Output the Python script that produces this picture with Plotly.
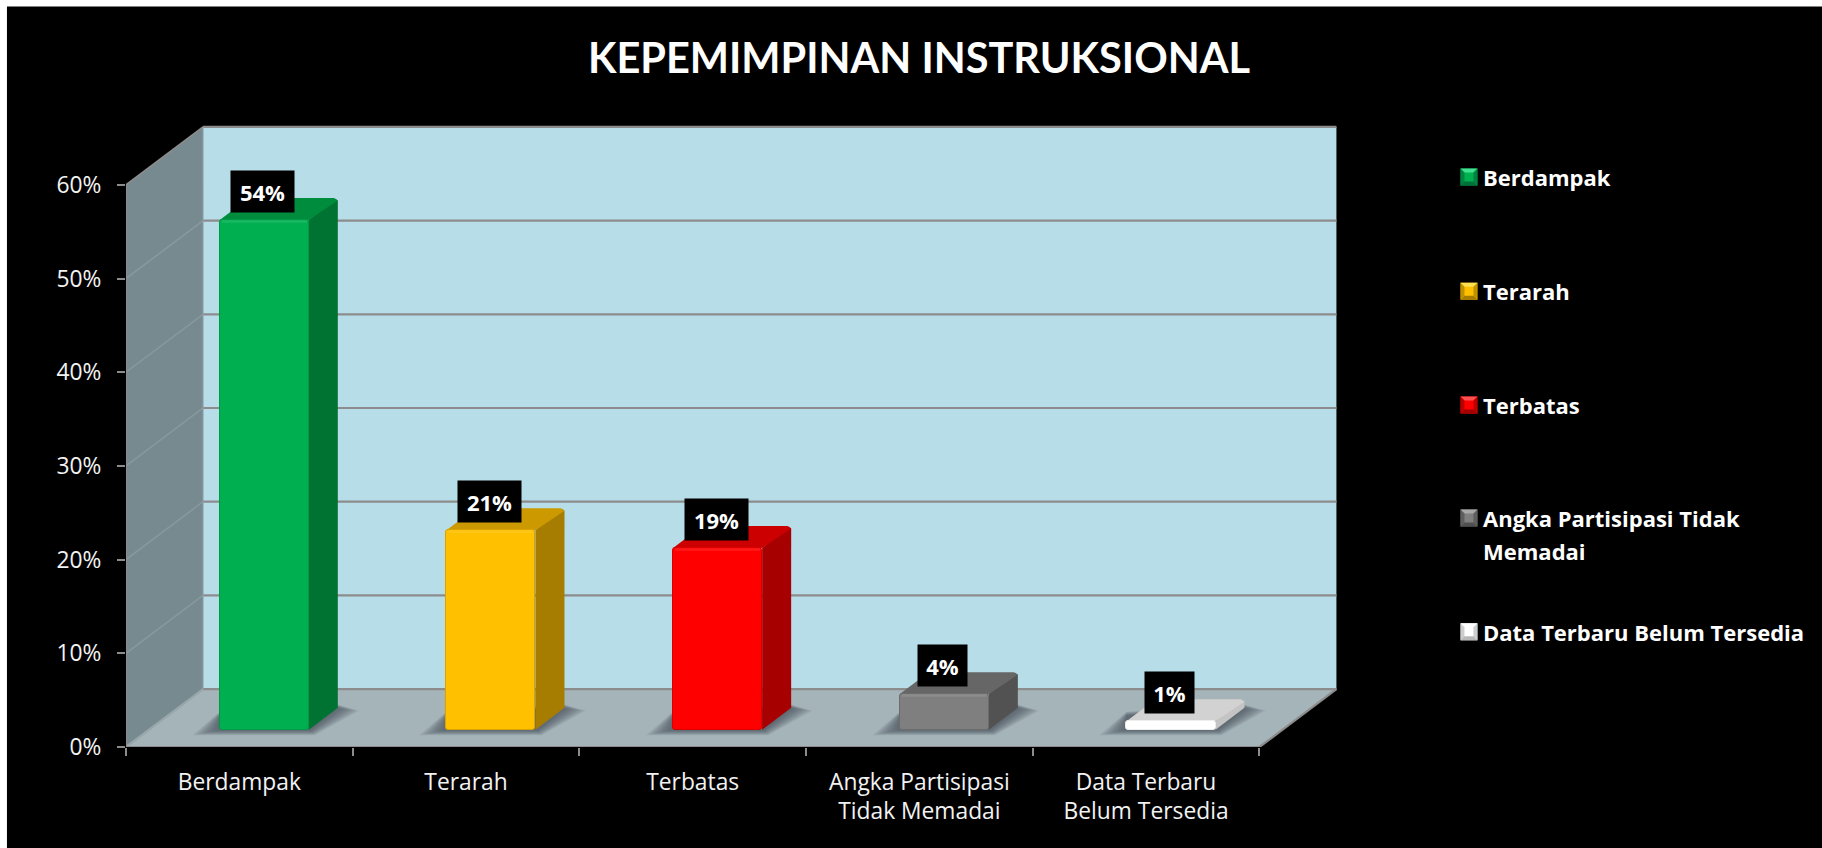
import plotly.graph_objects as go

# ---------- data ----------
categories = ["Berdampak", "Terarah", "Terbatas", "Angka Partisipasi<br>Tidak Memadai", "Data Terbaru<br>Belum Tersedia"]
legend_names = ["Berdampak", "Terarah", "Terbatas", "Angka Partisipasi Tidak<br>Memadai", "Data Terbaru Belum Tersedia"]
values = [54.4, 21.3, 19.4, 3.8, 0.9]
value_labels = ["54%", "21%", "19%", "4%", "1%"]
y_ticks = [0, 10, 20, 30, 40, 50, 60]
y_tick_labels = ["0%", "10%", "20%", "30%", "40%", "50%", "60%"]
title_text = "KEPEMIMPINAN INSTRUKSIONAL"

front_colors = ["#00B050", "#FFC000", "#FF0000", "#7F7F7F", "#FFFFFF"]
side_colors = ["#007231", "#A67D00", "#A60000", "#525252", "#C4C4C4"]
top_colors = ["#008C3D", "#CC9A00", "#CC0000", "#666666", "#D2D2D2"]
edge_colors = ["#009A46", "#D9A300", "#D90000", "#6C6C6C", "#EEEEEE"]
legend_light = ["#40E090", "#FFE050", "#FF5050", "#A8A8A8", "#FFFFFF"]
legend_dark = ["#00703A", "#A67D00", "#A00000", "#505050", "#B8B8B8"]

# ---------- geometry ----------
W_PX, H_PX = 1822, 848
X0_PX, Y0_PX = 126.0, 747.3          # pixel of x=0, y=0
PX_PER_X, PX_PER_Y = 226.6, 9.38     # pixels per category / per percent point
XMAX, YMAX = 5.36, 66.6
plot_w, plot_h = XMAX * PX_PER_X, YMAX * PX_PER_Y

ux = lambda p: p / PX_PER_X
uy = lambda p: p / PX_PER_Y
DX, DY = ux(77), uy(58)              # wall depth
BAR_W = ux(89)
BAR_DX, BAR_DY = ux(29), uy(22)      # bar depth
SHIFT_X, BASE_Y = 0.11, uy(17.3)     # bar offset on the floor

WALL = "#768A90"
BACK = "#B7DDE8"
FLOOR = "#A5B4B9"
GRID = "#8C8C8C"
AXIS = "#8C8C8C"
FONT = "Open Sans"
TITLE_FONT = "Lato"


def px_paper(x, y):
    return (x - X0_PX) / plot_w, (Y0_PX - y) / plot_h


def poly(points, fill, opacity=1.0, layer="below", ref="data"):
    if ref == "paper":
        points = [px_paper(*p) for p in points]
    path = "M " + " L ".join(f"{a:.5f},{b:.5f}" for a, b in points) + " Z"
    d = dict(type="path", path=path, fillcolor=fill, opacity=opacity, line=dict(width=0), layer=layer)
    d.update(xref="paper", yref="paper") if ref == "paper" else d.update(xref="x", yref="y")
    return d


def line(x0, y0, x1, y1, color=GRID, width=2.2, layer="below", opacity=1.0):
    return dict(type="line", xref="x", yref="y", x0=x0, y0=y0, x1=x1, y1=y1, opacity=opacity,
                line=dict(color=color, width=width), layer=layer)


shapes = []
# black page panel (the page has a thin white edge at left and top)
bx0, by0 = px_paper(7, 6)
bx1, by1 = px_paper(W_PX + 10, H_PX + 10)
shapes.append(dict(type="rect", xref="paper", yref="paper", x0=bx0, y0=by0, x1=bx1, y1=by1,
                   fillcolor="#000000", line=dict(width=0), layer="below"))

top = y_ticks[-1]
# walls and floor
shapes.append(poly([(DX, DY), (DX + 5, DY), (DX + 5, DY + top), (DX, DY + top)], BACK))
shapes.append(poly([(0, 0), (DX, DY), (DX, DY + top), (0, top)], WALL))
shapes.append(poly([(0, 0), (5, 0), (5 + DX, DY), (DX, DY)], FLOOR))
# gridlines on the back wall and side wall
for t in y_ticks:
    if t > 0:
        shapes.append(line(0, t, DX, t + DY, color="#87999E" if t < top else GRID, width=1.6))
        shapes.append(line(DX, t + DY, DX + 5, t + DY))
shapes.append(line(DX, DY, DX + 5, DY))
shapes.append(line(0, 0, DX, DY, color="#98A6AA"))
shapes.append(line(5, 0, 5 + DX, DY))
shapes.append(line(DX, DY, DX, DY + top, color="#8FA3A8", width=1))

x_pos = [i + 0.5 + SHIFT_X for i in range(len(values))]
tops = [BASE_Y + v for v in values]

# soft floor shadows
for xc in x_pos:
    x0, x1 = xc - BAR_W / 2, xc + BAR_W / 2
    b = BASE_Y
    for k in range(9):
        t = 1 - k / 8
        shapes.append(poly([
            (x0 - ux(3 + 24 * t), b - uy(0.5 + 5 * t)),
            (x1 + ux(2 + 4 * t), b - uy(0.5 + 5 * t)),
            (x1 + BAR_DX + ux(1 + 20 * t), b + BAR_DY - uy(1 + 2 * t)),
            (x1 + BAR_DX, b + BAR_DY + uy(3 * t)),
            (x0, b + uy(14 + 4 * t)),
        ], "#434D50", opacity=0.11))

# side and top faces of the bars, computed from the values
for xc, yt, side, tp in zip(x_pos, tops, side_colors, top_colors):
    x0, x1 = xc - BAR_W / 2, xc + BAR_W / 2
    c = ux(2.5)
    d = uy(2.5)
    shapes.append(poly([(x1, BASE_Y), (x1 + BAR_DX, BASE_Y + BAR_DY),
                        (x1 + BAR_DX, yt + BAR_DY - d), (x1 + BAR_DX - c, yt + BAR_DY - d / 4),
                        (x1, yt)], side))
    shapes.append(poly([(x0, yt), (x1, yt), (x1 + BAR_DX, yt + BAR_DY - d),
                        (x1 + BAR_DX - c * 1.5, yt + BAR_DY),
                        (x0 + BAR_DX, yt + BAR_DY)], tp))
    shapes.append(line(x0 + ux(2), yt - uy(1.5), x1 - ux(2), yt - uy(1.5), color="#FFFFFF", width=2.5,
                       layer="above", opacity=0.10))

# legend swatches
LEG_X, LEG_S = 1460.0, 17.0
legend_y = [176.7, 291.0, 405.0, 518.0, 632.0]
for cy, base, light, dark in zip(legend_y, front_colors, legend_light, legend_dark):
    a, b = LEG_X, LEG_X + LEG_S
    u, v = cy - LEG_S / 2, cy + LEG_S / 2
    i = 4
    shapes.append(poly([(a, u), (b, u), (b, v), (a, v)], base, ref="paper"))
    shapes.append(poly([(a, u), (b, u), (b - i, u + i), (a + i, u + i)], light, ref="paper"))
    shapes.append(poly([(a, v), (b, v), (b - i, v - i), (a + i, v - i)], dark, ref="paper"))
    shapes.append(poly([(a, u), (a + i, u + i), (a + i, v - i), (a, v)], dark, opacity=0.7, ref="paper"))
    shapes.append(poly([(b, u), (b - i, u + i), (b - i, v - i), (b, v)], dark, opacity=0.7, ref="paper"))

annotations = []
# value labels
for xc, yt, lab in zip(x_pos, tops, value_labels):
    annotations.append(dict(x=xc - ux(1.5), y=yt, xref="x", yref="y", text=f"<b>{lab}</b>", showarrow=False,
                            yshift=28.5, width=61 if len(lab) > 2 else 47, height=39, bgcolor="#000000",
                            borderpad=1, align="center", valign="middle",
                            font=dict(family=FONT, size=22, color="#FFFFFF")))
# legend text
for cy, name in zip(legend_y, legend_names):
    for j, part in enumerate(name.split("<br>")):
        px, py = px_paper(1481, cy + j * 33)
        annotations.append(dict(x=px, y=py, xref="paper", yref="paper", text=f"<b>{part}</b>", showarrow=False,
                                xanchor="left", yanchor="middle",
                                font=dict(family=FONT, size=22, color="#FFFFFF")))

fig = go.Figure()
fig.add_trace(go.Bar(x=x_pos, y=values, base=BASE_Y, width=BAR_W, hoverinfo="skip", showlegend=False,
                     marker=dict(color=front_colors, cornerradius=3,
                                 line=dict(color=edge_colors, width=1))))
# axis lines of the front edge
fig.add_trace(go.Scatter(x=[0, 0], y=[0, top], mode="lines", cliponaxis=False, hoverinfo="skip", showlegend=False,
                         line=dict(color=AXIS, width=2)))
fig.add_trace(go.Scatter(x=[0, 5], y=[0, 0], mode="lines", cliponaxis=False, hoverinfo="skip", showlegend=False,
                         line=dict(color=AXIS, width=2)))

fig.update_layout(
    width=W_PX, height=H_PX, autosize=False,
    margin=dict(l=X0_PX, t=Y0_PX - plot_h, r=W_PX - X0_PX - plot_w, b=H_PX - Y0_PX, pad=0, autoexpand=False),
    paper_bgcolor="#FFFFFF", plot_bgcolor="rgba(0,0,0,0)", showlegend=False, bargap=0,
    font=dict(family=FONT, color="#FFFFFF"),
    title=dict(text=f"<b>{title_text}</b>", x=919 / W_PX, xanchor="center", xref="container",
               y=1 - 58 / H_PX, yanchor="middle", yref="container",
               font=dict(family=TITLE_FONT, size=41.5, color="#FFFFFF")),
    xaxis=dict(range=[0, XMAX], showgrid=False, zeroline=False, showline=False,
               tickmode="array", tickvals=[i + 0.5 for i in range(len(categories))], ticktext=categories,
               ticks="", ticklabelstandoff=19, tickangle=0,
               tickfont=dict(family=FONT, size=22.8, color="#F2F2F2"),
               minor=dict(tickmode="array", tickvals=list(range(len(categories) + 1)), ticks="outside",
                          ticklen=8, tickwidth=2, tickcolor=AXIS, showgrid=False)),
    yaxis=dict(range=[0, YMAX], showgrid=False, zeroline=False, showline=False,
               tickmode="array", tickvals=y_ticks, ticktext=y_tick_labels, ticks="outside", ticklen=8, tickwidth=2,
               tickcolor=AXIS, ticklabelstandoff=11,
               tickfont=dict(family=FONT, size=22.8, color="#F2F2F2")),
    shapes=shapes, annotations=annotations,
)

fig.write_html("out.html", config={"displayModeBar": False},
               post_script="document.body.style.margin='0';document.documentElement.style.overflow='hidden';"
                           "document.documentElement.style.background='#000';")
